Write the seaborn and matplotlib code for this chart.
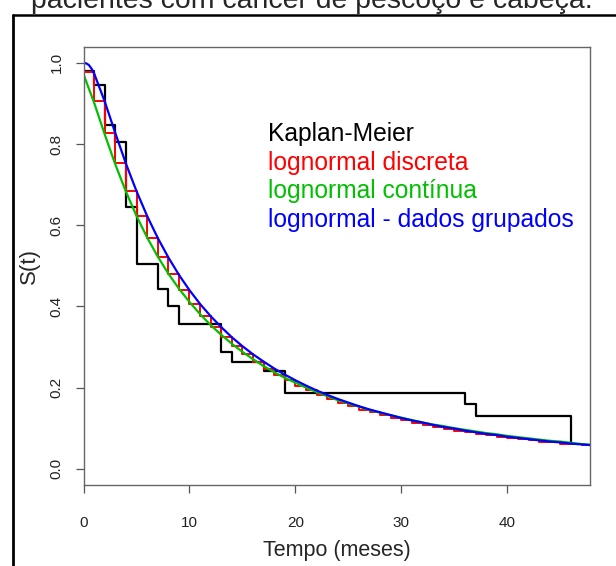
import numpy as np
import pandas as pd
import seaborn as sns
import matplotlib.pyplot as plt
from matplotlib.lines import Line2D

# Kaplan-Meier estimate
km_time = [0, 1, 2, 3, 4, 5, 7, 8, 9, 13, 14, 17, 19, 36, 37, 46]
km_surv = [0.981, 0.946, 0.847, 0.804, 0.645, 0.504, 0.442, 0.400, 0.357,
           0.287, 0.263, 0.240, 0.187, 0.160, 0.129, 0.063]

# monthly grid used for the fitted curves
months = list(range(0, 49))

# lognormal - dados grupados (blue)
grouped_surv = [1.000, 0.974, 0.905, 0.827, 0.752, 0.684, 0.623, 0.569, 0.521, 0.478,
                0.440, 0.406, 0.376, 0.349, 0.324, 0.302, 0.282, 0.264, 0.247, 0.232,
                0.218, 0.205, 0.193, 0.182, 0.172, 0.163, 0.154, 0.146, 0.139, 0.132,
                0.125, 0.119, 0.114, 0.108, 0.103, 0.099, 0.094, 0.090, 0.086, 0.083,
                0.079, 0.076, 0.073, 0.070, 0.067, 0.065, 0.062, 0.060, 0.058]
# early part of blue curve (flat start)
early_time = [0.25, 0.5, 0.75]
early_surv = [0.999, 0.995, 0.986]

# lognormal discreta (red step function)
discrete_surv = [0.977, 0.906, 0.828, 0.753, 0.684, 0.623, 0.569, 0.521, 0.479, 0.440,
                 0.406, 0.376, 0.349, 0.324, 0.302, 0.282, 0.264, 0.247, 0.232, 0.218,
                 0.205, 0.193, 0.182, 0.172, 0.163, 0.154, 0.146, 0.139, 0.132, 0.125,
                 0.119, 0.114, 0.108, 0.103, 0.099, 0.094, 0.090, 0.086, 0.083, 0.079,
                 0.076, 0.073, 0.070, 0.067, 0.065, 0.062, 0.060, 0.058, 0.056]

# lognormal continua (green)
continuous_surv = [0.972, 0.902, 0.824, 0.750, 0.683, 0.623, 0.570, 0.523, 0.481, 0.444,
                   0.411, 0.381, 0.354, 0.330, 0.308, 0.288, 0.270, 0.253, 0.238, 0.224,
                   0.212, 0.200, 0.189, 0.179, 0.169, 0.161, 0.153, 0.145, 0.138, 0.132,
                   0.126, 0.120, 0.114, 0.109, 0.105, 0.100, 0.096, 0.092, 0.088, 0.085,
                   0.081, 0.078, 0.075, 0.072, 0.069, 0.067, 0.064, 0.061, 0.059]

legend_labels = ["Kaplan-Meier", "lognormal discreta", "lognormal contínua",
                 "lognormal - dados grupados"]
legend_colors = ["black", "#FF0000", "#00C000", "#0000FF"]

x_ticks = [0, 10, 20, 30, 40]
y_ticks = [0.0, 0.2, 0.4, 0.6, 0.8, 1.0]

sns.set_style("white")
plt.rcParams['font.family'] = ['Liberation Sans', 'DejaVu Sans']

fig = plt.figure(figsize=(6.16, 5.66), dpi=100)
ax = fig.add_axes([0.1356, 0.1431, 0.8222, 0.7744])

blue_t = [0] + early_time + months[1:]
blue_s = [grouped_surv[0]] + early_surv + grouped_surv[1:]

sns.lineplot(x=km_time, y=km_surv, drawstyle='steps-post', color='black',
             lw=1.6, ax=ax, estimator=None)
sns.lineplot(x=months, y=discrete_surv, drawstyle='steps-post', color=legend_colors[1],
             lw=1.4, ax=ax, estimator=None)
sns.lineplot(x=months, y=continuous_surv, color=legend_colors[2], lw=1.6, ax=ax,
             estimator=None)
sns.lineplot(x=blue_t, y=blue_s, color=legend_colors[3], lw=1.6, ax=ax, estimator=None)

ax.set_xlim(0, 47.8)
ax.set_ylim(-0.04, 1.04)
ax.set_xticks(x_ticks)
ax.set_xticklabels([str(v) for v in x_ticks], fontsize=11, color='#222222')
ax.set_yticks(y_ticks)
ax.set_yticklabels([f"{v:.1f}" for v in y_ticks], fontsize=11, rotation=90,
                   va='center', color='#222222')
ax.tick_params(axis='both', which='both', direction='out', length=5.5, width=0.9,
               color='#555555', left=True, bottom=True)
ax.tick_params(axis='x', pad=17)
ax.tick_params(axis='y', pad=9)
for s in ax.spines.values():
    s.set_color('#666666')
    s.set_linewidth(1.0)

ax.set_xlabel("Tempo (meses)", fontsize=15.5, labelpad=7)
ax.set_ylabel("S(t)", fontsize=16, labelpad=7)

# legend drawn as coloured text (no keys)
for i, (lab, col) in enumerate(zip(legend_labels, legend_colors)):
    ax.text(17.4, 0.808 - i * 0.0706, lab, color=col, fontsize=17.7, va='baseline',
            ha='left')

# caption above the figure frame (cut by the image border) and the frame itself
fig.text(0.5065, 1 - 8.5 / 566, "pacientes com câncer de pescoço e cabeça.",
         ha='center', va='baseline', fontsize=20.4)
fig.add_artist(Line2D([13 / 616, 1.0], [1 - 14.5 / 566, 1 - 14.5 / 566],
                      transform=fig.transFigure, color='black', lw=1.8))
fig.add_artist(Line2D([13 / 616, 13 / 616], [0, 1 - 14.5 / 566],
                      transform=fig.transFigure, color='black', lw=2.0))

fig.savefig("out.png", dpi=100)
